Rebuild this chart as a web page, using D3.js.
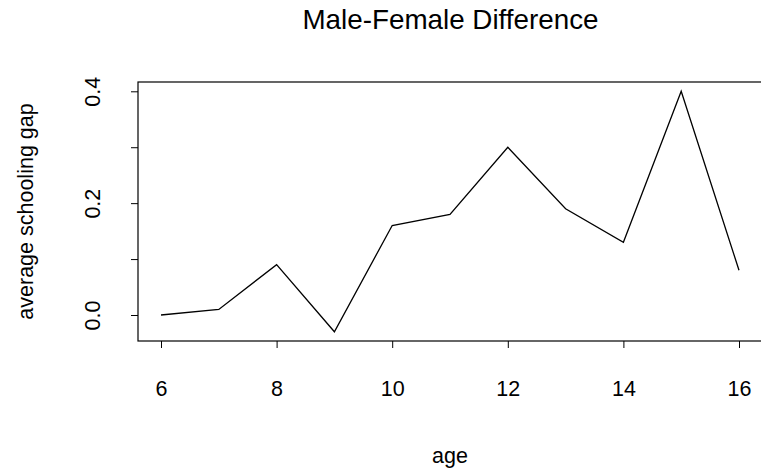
<!DOCTYPE html>
<html>
<head>
<meta charset="utf-8">
<script src="https://cdn.jsdelivr.net/npm/d3@7/dist/d3.min.js"></script>
<style>
  html, body { margin: 0; padding: 0; background: #fff; }
  svg text { font-family: "Liberation Sans", Arial, sans-serif; fill: #000; }
</style>
</head>
<body>
<svg id="chart" width="761" height="472"></svg>
<script>
// Average schooling gap (male minus female) by age
const ages = [6, 7, 8, 9, 10, 11, 12, 13, 14, 15, 16];
const gap = [0.00, 0.01, 0.09, -0.03, 0.16, 0.18, 0.30, 0.19, 0.13, 0.40, 0.08];
const xTicks = [6, 8, 10, 12, 14, 16];
const yTicks = [0.0, 0.1, 0.2, 0.3, 0.4];
const yLabels = [0.0, 0.2, 0.4];

const FONT = 21.5;
const svg = d3.select("#chart");
const box = { left: 138, right: 763, top: 82, bottom: 341 };

const x = d3.scaleLinear().domain([6, 16]).range([161, 739]);
const y = d3.scaleLinear().domain([0, 0.4]).range([315, 91.3]);

// plot frame
svg.append("rect")
  .attr("x", box.left).attr("y", box.top)
  .attr("width", box.right - box.left).attr("height", box.bottom - box.top)
  .attr("fill", "none").attr("stroke", "#000").attr("stroke-width", 1.2);

// x axis
const xAxis = d3.axisBottom(x).tickValues(xTicks).tickSize(7)
  .tickFormat(d3.format("d"));
const gx = svg.append("g").attr("transform", `translate(0,${box.bottom})`).call(xAxis);
gx.select(".domain").remove();
gx.selectAll("line").attr("stroke", "#000");
gx.selectAll("text")
  .attr("font-size", FONT)
  .style("font-family", "Liberation Sans, Arial, sans-serif")
  .attr("dy", null)
  .attr("y", 396 - box.bottom);

// y axis: ticks every 0.1, labels every 0.2
const yAxis = d3.axisLeft(y).tickValues(yTicks).tickSize(7)
  .tickFormat(d => yLabels.some(v => Math.abs(v - d) < 1e-9) ? d3.format(".1f")(d) : "");
const gy = svg.append("g").attr("transform", `translate(${box.left},0)`).call(yAxis);
gy.select(".domain").remove();
gy.selectAll("line").attr("stroke", "#000");
gy.selectAll("text")
  .attr("font-size", FONT)
  .style("font-family", "Liberation Sans, Arial, sans-serif")
  .attr("x", null).attr("dy", null)
  .attr("text-anchor", "middle")
  .attr("transform", `translate(${100 - box.left},0) rotate(-90)`);

// data line
const line = d3.line().x((d, i) => x(ages[i])).y(d => y(d));
svg.append("path")
  .datum(gap)
  .attr("d", line)
  .attr("fill", "none").attr("stroke", "#000").attr("stroke-width", 1.3);

// titles
svg.append("text").attr("x", 450.5).attr("y", 29).attr("text-anchor", "middle")
  .attr("font-size", 27.8).text("Male-Female Difference");
svg.append("text").attr("x", 450).attr("y", 463).attr("text-anchor", "middle")
  .attr("font-size", FONT).text("age");
svg.append("text").attr("transform", "translate(33,211.5) rotate(-90)").attr("text-anchor", "middle")
  .attr("font-size", FONT).text("average schooling gap");
</script>
</body>
</html>
